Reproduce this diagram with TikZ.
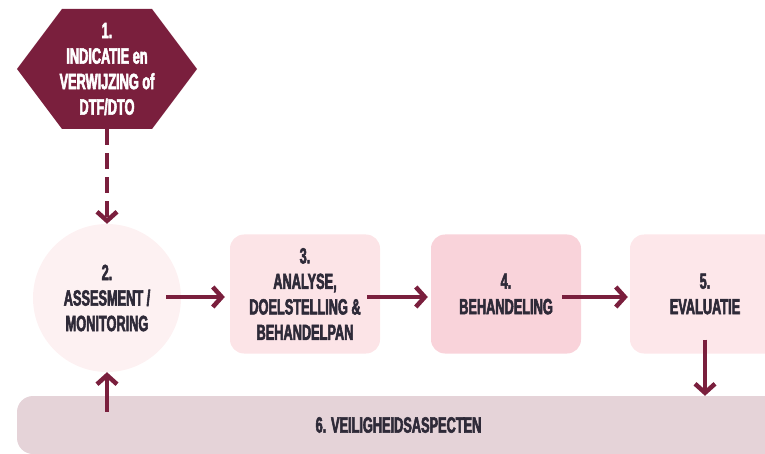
\documentclass[tikz,border=0pt]{standalone}
\usepackage{fontspec}
\setmainfont[FakeStretch=0.58,FakeBold=2.5]{Liberation Sans}
\usetikzlibrary{arrows.meta,calc}
\definecolor{maroon}{HTML}{7A1F3D}
\definecolor{ink}{HTML}{2E2A38}
\definecolor{circfill}{HTML}{FDF1F2}
\definecolor{anafill}{HTML}{FCE4E7}
\definecolor{behfill}{HTML}{F9D3DA}
\definecolor{evafill}{HTML}{FDE7EA}
\definecolor{veilfill}{HTML}{E5D3D8}
\begin{document}
\begin{tikzpicture}[x=1pt,y=-1pt,
  txt/.style={font=\bfseries\fontsize{22}{25.5}\selectfont, align=center, text=ink},
  hexbox/.style={txt, text=white, minimum width=180pt, minimum height=120pt, inner sep=0pt,
    path picture={\fill[maroon] (path picture bounding box.west)
      -- ([xshift=45pt]path picture bounding box.north west)
      -- ([xshift=-45pt]path picture bounding box.north east)
      -- (path picture bounding box.east)
      -- ([xshift=-45pt]path picture bounding box.south east)
      -- ([xshift=45pt]path picture bounding box.south west) -- cycle;}},
  stapbox/.style={txt, rounded corners=14pt, minimum width=150pt, minimum height=119pt, inner sep=0pt},
  arr/.style={draw=maroon, line width=4.5pt, -{Straight Barb[length=9pt,width=20pt]}},
  darr/.style={arr, dash pattern=on 16pt off 8pt}]
\useasboundingbox (0,0) rectangle (765,454);
% stappen
\node[hexbox] (ind) at (107,69) {1.\\INDICATIE en\\VERWIJZING of\\DTF/DTO};
\node[txt, circle, fill=circfill, minimum size=148pt, inner sep=0pt] (ass) at (107,298) {2.\\ASSESMENT /\\MONITORING};
\node[stapbox, fill=anafill] (ana) at (305,294) {3.\\ANALYSE,\\DOELSTELLING \&\\BEHANDELPAN};
\node[stapbox, fill=behfill] (beh) at (506,294) {4.\\BEHANDELING};
\node[stapbox, fill=evafill] (eva) at (705,294) {5.\\EVALUATIE};
\node[txt, fill=veilfill, rounded corners=16pt, minimum width=763pt, minimum height=58pt] (veil) at (398.5,425) {6. VEILIGHEIDSASPECTEN};
% pijlen
\draw[darr] (ind.south) -- (ass.north);
\draw[arr] ([xshift=-15pt,yshift=1pt]ass.east) -- ([xshift=-5pt,yshift=1pt]ass.east -| ana.west);
\draw[arr] ([xshift=-13pt,yshift=1pt]ass.east -| ana.east) -- ([xshift=-3pt,yshift=1pt]ass.east -| beh.west);
\draw[arr] ([xshift=-19pt,yshift=1pt]ass.east -| beh.east) -- ([xshift=-2pt,yshift=1pt]ass.east -| eva.west);
\draw[arr] ([yshift=14pt]eva.south) -- (eva.south |- veil.north);
\draw[arr] ($(veil.north -| ass.south)+(0,16)$) -- (ass.south);
\end{tikzpicture}
\end{document}
